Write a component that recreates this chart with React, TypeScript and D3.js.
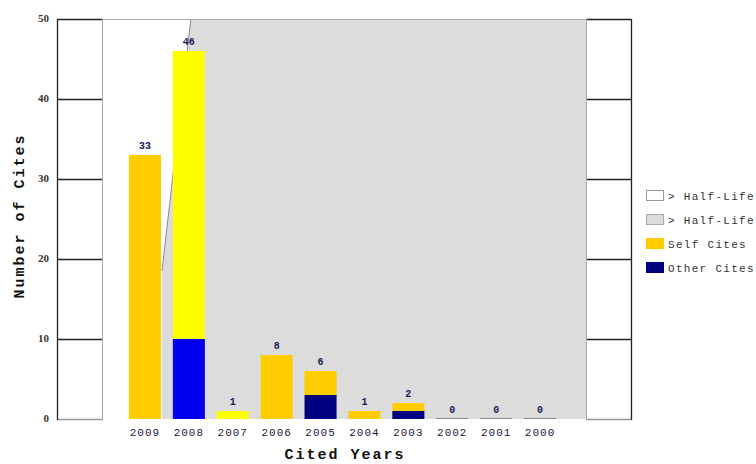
import { useEffect, useRef } from 'react';
import * as d3 from 'd3';

const years = ['2009', '2008', '2007', '2006', '2005', '2004', '2003', '2002', '2001', '2000'];
const selfCites = [33, 36, 1, 8, 3, 1, 1, 0, 0, 0];
const otherCites = [0, 10, 0, 0, 3, 0, 1, 0, 0, 0];
// years used for the impact factor are drawn in brighter colours
const highlighted = ['2008', '2007'];
const yTicks = [0, 10, 20, 30, 40, 50];
const legendLabels = ['> Half-Life', '> Half-Life', 'Self Cites', 'Other Cites'];

const W = 756;
const H = 464;

export default function App() {
  const svgRef = useRef<SVGSVGElement>(null);

  useEffect(() => {
    if (!svgRef.current) return;
    const svg = d3.select(svgRef.current);
    svg.selectAll('*').remove();

    const plotLeft = 102;
    const plotRight = 586;
    const panelW = 45;

    const x = d3.scaleBand<string>().domain(years).range([123, 562]).paddingInner(0.27).paddingOuter(0.135);
    const y = d3.scaleLinear().domain([0, 50]).range([419, 19]);

    const mono = '"Liberation Mono", "DejaVu Sans Mono", monospace';

    // half-life shading: gray for older years
    const hlTopX = x('2008')! + x.bandwidth() / 2 + 2;
    const hlBotX = x('2009')! + x.bandwidth() + 1;
    const hlBreak = y(18.5);
    svg.append('path')
      .attr('d', `M${hlTopX},${y(50)} L${plotRight},${y(50)} L${plotRight},${y(0)} L${hlBotX},${y(0)} L${hlBotX},${hlBreak} Z`)
      .attr('fill', '#dcdcdc');
    svg.append('line')
      .attr('x1', hlTopX).attr('y1', y(50))
      .attr('x2', hlBotX).attr('y2', hlBreak)
      .attr('stroke', '#8a8a8a').attr('stroke-width', 1);

    // side panels with tick lines
    const panels = [plotLeft - panelW, plotRight];
    panels.forEach((px, i) => {
      svg.append('rect')
        .attr('x', px).attr('y', y(50))
        .attr('width', panelW).attr('height', y(0) - y(50))
        .attr('fill', 'white');
      svg.selectAll(null)
        .data(yTicks)
        .enter()
        .append('line')
        .attr('x1', px).attr('x2', px + panelW)
        .attr('y1', (d) => y(d) + 0.5).attr('y2', (d) => y(d) + 0.5)
        .attr('stroke', (d) => (d === 0 ? '#999' : '#222'))
        .attr('stroke-width', 1.3);
      const outer = i === 0 ? px : px + panelW;
      const inner = i === 0 ? px + panelW : px;
      svg.append('line')
        .attr('x1', outer + 0.5).attr('x2', outer + 0.5)
        .attr('y1', y(50)).attr('y2', y(0) + 1)
        .attr('stroke', '#222').attr('stroke-width', 1.3);
      svg.append('line')
        .attr('x1', inner + 0.5).attr('x2', inner + 0.5)
        .attr('y1', y(50)).attr('y2', y(0) + 1)
        .attr('stroke', '#aaa').attr('stroke-width', 1);
    });
    svg.append('line')
      .attr('x1', plotLeft).attr('x2', plotRight)
      .attr('y1', y(50) + 0.5).attr('y2', y(50) + 0.5)
      .attr('stroke', '#aaa');

    // bars
    const rows = years.map((yr, i) => ({ yr, self: selfCites[i], other: otherCites[i], hl: highlighted.includes(yr) }));
    const bars = svg.append('g');
    rows.forEach((r) => {
      const bx = x(r.yr)!;
      const bw = x.bandwidth();
      if (r.other > 0) {
        bars.append('rect')
          .attr('x', bx).attr('y', y(r.other))
          .attr('width', bw).attr('height', y(0) - y(r.other))
          .attr('fill', r.hl ? '#0000ee' : '#000080');
      }
      if (r.self > 0) {
        bars.append('rect')
          .attr('x', bx).attr('y', y(r.other + r.self))
          .attr('width', bw).attr('height', y(r.other) - y(r.other + r.self))
          .attr('fill', r.hl ? '#ffff00' : '#ffcc00');
      }
      if (r.self + r.other === 0) {
        bars.append('line')
          .attr('x1', bx).attr('x2', bx + bw)
          .attr('y1', y(0) - 0.5).attr('y2', y(0) - 0.5)
          .attr('stroke', '#888');
      }
      bars.append('text')
        .attr('x', bx + bw / 2)
        .attr('y', y(r.other + r.self) - 6)
        .attr('text-anchor', 'middle')
        .attr('font-family', mono)
        .attr('font-size', 10)
        .attr('font-weight', 'bold')
        .attr('fill', '#1a1a5a')
        .text(r.self + r.other);
    });

    // y tick labels
    svg.append('g')
      .selectAll('text')
      .data(yTicks)
      .enter()
      .append('text')
      .attr('x', 49)
      .attr('y', (d) => y(d) + 3)
      .attr('text-anchor', 'end')
      .attr('font-family', '"Liberation Serif", serif')
      .attr('font-size', 11)
      .attr('font-weight', 'bold')
      .attr('fill', '#333')
      .text((d) => d);

    // x tick labels
    svg.append('g')
      .selectAll('text')
      .data(years)
      .enter()
      .append('text')
      .attr('x', (d) => x(d)! + x.bandwidth() / 2)
      .attr('y', 436)
      .attr('text-anchor', 'middle')
      .attr('font-family', mono)
      .attr('font-size', 11)
      .attr('letter-spacing', 1)
      .attr('fill', '#1a1a3a')
      .text((d) => d);

    // axis titles
    svg.append('text')
      .attr('x', 345).attr('y', 459)
      .attr('text-anchor', 'middle')
      .attr('font-family', mono)
      .attr('font-size', 15)
      .attr('font-weight', 'bold')
      .attr('letter-spacing', 2)
      .attr('fill', '#111')
      .text('Cited Years');
    svg.append('text')
      .attr('transform', 'translate(24,216) rotate(-90)')
      .attr('text-anchor', 'middle')
      .attr('font-family', mono)
      .attr('font-size', 15)
      .attr('font-weight', 'bold')
      .attr('letter-spacing', 2)
      .attr('fill', '#111')
      .text('Number of Cites');

    // legend
    const swatches = [
      { fill: 'white', stroke: '#999' },
      { fill: '#dcdcdc', stroke: '#aaa' },
      { fill: '#ffcc00', stroke: '#ffcc00' },
      { fill: '#000080', stroke: '#000080' },
    ];
    const ly = d3.scaleLinear().domain([0, 3]).range([196, 268]);
    const legend = svg.append('g');
    legendLabels.forEach((label, i) => {
      legend.append('rect')
        .attr('x', 646.5).attr('y', ly(i) - 5.5)
        .attr('width', 17).attr('height', 10)
        .attr('fill', swatches[i].fill)
        .attr('stroke', swatches[i].stroke);
      legend.append('text')
        .attr('x', 668).attr('y', ly(i) + 4)
        .attr('font-family', mono)
        .attr('font-size', 11)
        .attr('letter-spacing', 1.3)
        .attr('fill', '#333')
        .text(label);
    });
  }, []);

  return (
    <svg
      ref={svgRef}
      width={W}
      height={H}
      style={{ position: 'absolute', left: 0, top: 0, background: 'white' }}
    />
  );
}
